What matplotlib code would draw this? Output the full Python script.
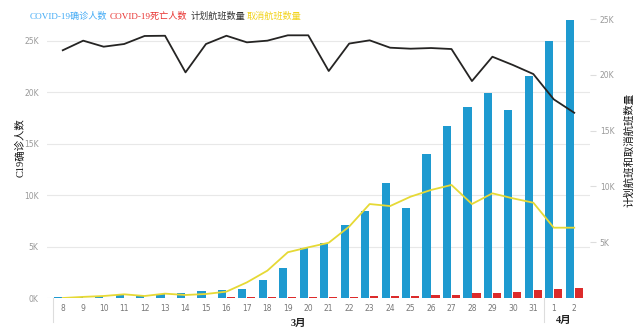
import matplotlib
matplotlib.use("Agg")
import matplotlib.pyplot as plt
import matplotlib.transforms as mtransforms
from matplotlib.lines import Line2D
import numpy as np

# ---- data ----
days = ["8", "9", "10", "11", "12", "13", "14", "15", "16", "17", "18", "19", "20",
        "21", "22", "23", "24", "25", "26", "27", "28", "29", "30", "31", "1", "2"]
confirmed = [100, 100, 200, 300, 300, 350, 500, 700, 780, 870, 1750, 2950, 4850,
             5300, 7100, 8450, 11200, 8770, 13950, 16760, 18600, 19900, 18300, 21550, 24950, 27060]
deaths = [10, 15, 20, 25, 30, 35, 40, 45, 50, 60, 70, 80, 90,
          130, 130, 150, 190, 220, 260, 270, 450, 500, 600, 750, 880, 1000]
scheduled = [22200, 23060, 22520, 22760, 23480, 23500, 20220, 22760, 23500, 22910, 23060, 23540, 23540,
             20340, 22800, 23090, 22430, 22340, 22400, 22310, 19440, 21620, 20880, 20070, 17800, 16600]
cancelled = [0, 100, 180, 330, 180, 390, 270, 360, 570, 1400, 2450, 4100, 4540,
             4950, 6400, 8420, 8240, 9080, 9680, 10130, 8420, 9380, 8930, 8540, 6300, 6300]
left_ticks = [0, 5000, 10000, 15000, 20000, 25000]
left_tick_labels = ["0K", "5K", "10K", "15K", "20K", "25K"]
right_ticks = [5000, 10000, 15000, 20000, 25000]
right_tick_labels = ["5K", "10K", "15K", "20K", "25K"]
month_labels = ["3月", "4月"]

cjk_serif = ["Liberation Serif", "Noto Sans CJK SC"]

fig = plt.figure(figsize=(6.4, 3.33), dpi=100)
W, H = 640, 333
ax = fig.add_axes([47 / W, (H - 298) / H, (590 - 47) / W, (298 - 15) / H])
ax2 = ax.twinx()

x = np.arange(len(days))
bw = 0.4
ax.bar(x - 0.22, confirmed, width=bw, color="#1E9AD0", zorder=2)
ax.bar(x + 0.22, deaths, width=bw, color="#DC2B2B", zorder=2)

ax2.plot(x, scheduled, color="#252423", lw=1.3, zorder=3)
ax2.plot(x, cancelled, color="#E6D935", lw=1.3, zorder=3)

ax.set_xlim(-0.77, 25.77)
ax.set_ylim(0, 27500)
ax2.set_ylim(0, 25360)

ax.set_yticks(left_ticks)
ax.set_yticklabels(left_tick_labels)
ax2.set_yticks(right_ticks)
ax2.set_yticklabels(right_tick_labels)
ax.grid(axis="y", color="#E8E8E8", lw=0.8, zorder=0)
ax.set_axisbelow(True)

ax.set_xticks(x)
ax.set_xticklabels(days)
for a in (ax, ax2):
    for s in a.spines.values():
        s.set_visible(False)
ax.tick_params(axis="x", length=0, labelsize=5.5, labelcolor="#777777", pad=4)
ax.tick_params(axis="y", length=0, labelsize=5.5, labelcolor="#999999", pad=6)
ax2.tick_params(axis="y", length=4, color="#DDDDDD", labelsize=5.5, labelcolor="#999999", pad=3)

# group separators and month labels
trans = mtransforms.blended_transform_factory(ax.transData, ax.transAxes)
for sx in (-0.5, 23.5):
    ax.add_line(Line2D([sx, sx], [0, -0.085], transform=trans, color="#DDDDDD", lw=0.8, clip_on=False))
ax.text(11.5, -0.09, month_labels[0], transform=trans, ha="center", va="center",
        fontsize=7.5, fontweight="bold", family=cjk_serif, color="#222222")
ax.text(24.5, -0.08, month_labels[1], transform=trans, ha="center", va="center",
        fontsize=7.5, fontweight="bold", family=cjk_serif, color="#222222")

# axis labels
fig.text(20 / W, (H - 148) / H, "C19确诊人数", rotation=90, ha="center", va="center",
         fontsize=7.5, family=cjk_serif, color="#111111")
fig.text(629 / W, (H - 150) / H, "计划航班和取消航班数量", rotation=90, ha="center", va="center",
         fontsize=7.5, family=cjk_serif, color="#111111")

# legend
leg = [("COVID-19确诊人数", "#3FA9F5", 30),
       ("COVID-19死亡人数", "#E8312F", 110),
       ("计划航班数量", "#333333", 191),
       ("取消航班数量", "#F2D31B", 247)]
for txt, col, px in leg:
    fig.text(px / W, (H - 16) / H, txt, ha="left", va="center", fontsize=6.6,
             family=cjk_serif, color=col)

fig.savefig("out.png", dpi=100)
